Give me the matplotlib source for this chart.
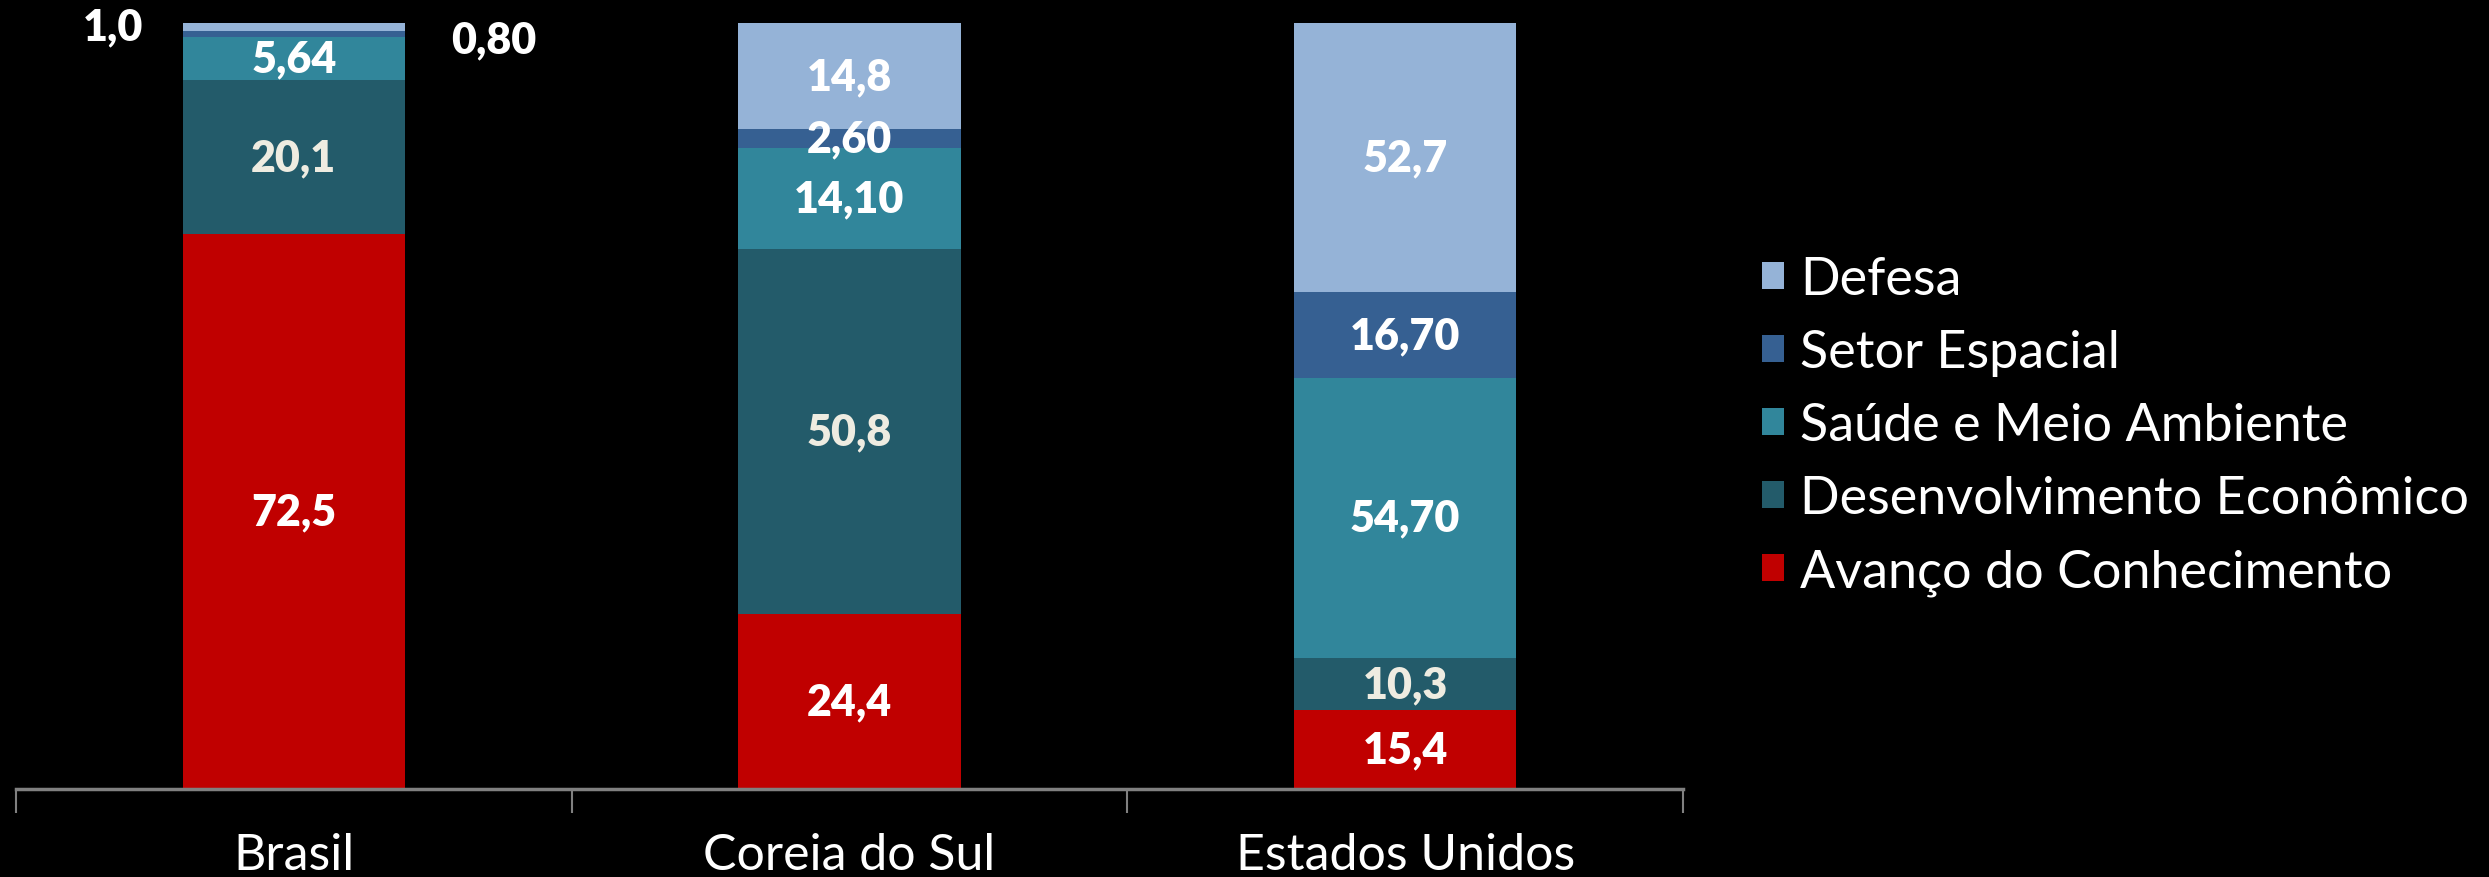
import matplotlib
matplotlib.use("Agg")
import matplotlib.pyplot as plt
import numpy as np

countries = ["Brasil", "Coreia do Sul", "Estados Unidos"]
series = ["Avanço do Conhecimento", "Desenvolvimento Econômico",
          "Saúde e Meio Ambiente", "Setor Espacial", "Defesa"]
avanco = [72.5, 24.4, 15.4]
desenv = [20.1, 50.8, 10.3]
saude = [5.64, 14.10, 54.70]
espacial = [0.80, 2.60, 16.70]
defesa = [1.0, 14.8, 52.7]
labels_avanco = ["72,5", "24,4", "15,4"]
labels_desenv = ["20,1", "50,8", "10,3"]
labels_saude = ["5,64", "14,10", "54,70"]
labels_espacial = ["0,80", "2,60", "16,70"]
labels_defesa = ["1,0", "14,8", "52,7"]
colors = ["#C00000", "#235B6A", "#31869B", "#366092", "#95B3D7"]
label_colors = ["#FFFFFF", "#EEECE1", "#FFFFFF", "#FFFFFF", "#FFFFFF"]

plt.rcParams['font.family'] = ['Lato', 'DejaVu Sans']

W, H = 2489, 878
fig = plt.figure(figsize=(W / 100, H / 100), dpi=100, facecolor="black")
ax = fig.add_axes([16 / W, 1 - 790 / H, (1683 - 16) / W, (790 - 24) / H])
ax.set_facecolor("black")

values = np.array([avanco, desenv, saude, espacial, defesa], dtype=float)
labels = [labels_avanco, labels_desenv, labels_saude, labels_espacial, labels_defesa]
totals = values.sum(axis=0)
shares = values / totals * 100
x = np.arange(len(countries))
bottom = np.zeros(len(countries))
handles = []
LW = "heavy"
LS = 31
for i, name in enumerate(series):
    b = ax.bar(x, shares[i], bottom=bottom, width=0.40, color=colors[i],
               label=name, linewidth=0)
    handles.append(b)
    for j in range(len(countries)):
        yc = bottom[j] + shares[i][j] / 2
        xc = x[j]
        txt = labels[i][j]
        if j == 0 and i == 3:
            ax.text(xc + 0.36, 97.8, txt, ha="center", va="center",
                    fontsize=LS, fontweight=LW, color="white", clip_on=False)
        elif j == 0 and i == 4:
            ax.text(xc - 0.326, 99.6, txt, ha="center", va="center",
                    fontsize=LS, fontweight=LW, color="white", clip_on=False)
        else:
            ax.text(xc, yc, txt, ha="center", va="center",
                    fontsize=LS, fontweight=LW, color=label_colors[i])
    bottom = bottom + shares[i]

ax.set_xlim(-0.5, 2.5)
ax.set_ylim(0, 100)
ax.set_yticks([])
for s in ["top", "right", "left"]:
    ax.spines[s].set_visible(False)
ax.spines["bottom"].set_color("#808080")
ax.spines["bottom"].set_linewidth(2.5)
ax.set_xticks([-0.5, 0.5, 1.5, 2.5])
ax.set_xticklabels([])
ax.tick_params(axis="x", which="major", length=17, width=1.5, color="#808080")
ax.set_xticks(x, minor=True)
ax.set_xticklabels(countries, minor=True)
ax.tick_params(axis="x", which="minor", length=0, pad=31, labelsize=36,
               labelcolor="white")

leg = fig.legend(handles[::-1], series[::-1], loc="center left",
                 bbox_to_anchor=(1762 / W, 1 - 427 / H), frameon=False,
                 fontsize=37.5, labelcolor="white", borderpad=0, borderaxespad=0,
                 handlelength=0.43, handleheight=0.43, handletextpad=0.3,
                 labelspacing=0.5)

fig.savefig("out.png", dpi=100, facecolor="black")
